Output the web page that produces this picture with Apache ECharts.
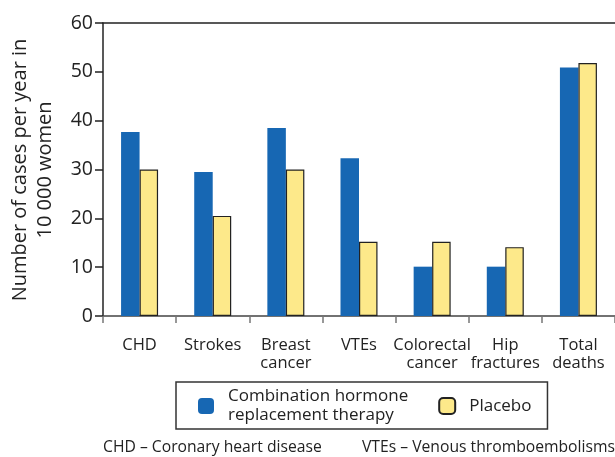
<!DOCTYPE html>
<html><head><meta charset="utf-8">
<script src="https://cdn.jsdelivr.net/npm/echarts@6/dist/echarts.min.js"></script>
<style>html,body{margin:0;padding:0;background:#fff}#c{width:615px;height:457px}</style>
</head><body><div id="c"></div>
<script>
const categories = ['CHD', 'Strokes', 'Breast\ncancer', 'VTEs', 'Colorectal\ncancer', 'Hip\nfractures', 'Total\ndeaths'];
const hrtValues = [37.7, 29.5, 38.5, 32.3, 10.1, 10.1, 50.9];
const placeboValues = [30, 20.5, 30, 15.2, 15.2, 14.1, 51.8];
const yTicks = [0, 10, 20, 30, 40, 50, 60];
const seriesNames = ['Combination hormone\nreplacement therapy', 'Placebo'];
const yTitle = 'Number of cases per year in\n10 000 women';
const footLeft = 'CHD – Coronary heart disease';
const footRight = 'VTEs – Venous thromboembolisms';

const font = 'Open Sans';
const chart = echarts.init(document.getElementById('c'));
chart.setOption({
  animation: false,
  textStyle: { fontFamily: font, color: '#222' },
  grid: { left: 103, top: 23, width: 516, height: 293, containLabel: false },
  xAxis: [{
    type: 'category', data: categories,
    axisLine: { lineStyle: { color: '#444', width: 1.5 } },
    axisTick: { show: true, length: 7, lineStyle: { color: '#777', width: 1.5 } },
    axisLabel: { fontFamily: font, fontSize: 16.5, color: '#222', margin: 20, lineHeight: 18, interval: 0 }
  }, {
    type: 'category', data: categories, position: 'top',
    axisLine: { show: true, lineStyle: { color: '#222', width: 1.5 } },
    axisTick: { show: false }, axisLabel: { show: false }
  }],
  yAxis: {
    type: 'value', min: yTicks[0], max: yTicks[yTicks.length - 1], interval: 10,
    axisLine: { show: true, lineStyle: { color: '#222', width: 1.5 } },
    axisTick: { show: true, length: 8, lineStyle: { color: '#222', width: 1.5 } },
    axisLabel: { fontFamily: font, fontSize: 19.5, color: '#222', margin: 10 },
    splitLine: { show: false }
  },
  legend: {
    left: 176, top: 382,
    data: seriesNames,
    itemWidth: 16, itemHeight: 16, itemGap: 30,
    borderColor: '#333', borderWidth: 1.5, borderRadius: 0,
    padding: [5, 16, 4, 22],
    textStyle: { fontFamily: font, fontSize: 17, color: '#222', lineHeight: 19, padding: [0, 0, 0, 9] }
  },
  series: [{
    name: seriesNames[0], type: 'bar', data: hrtValues, barWidth: 18.5, barGap: '0%',
    itemStyle: { color: '#1767b3' }
  }, {
    name: seriesNames[1], type: 'bar', data: placeboValues, barWidth: 18.5, barGap: '0%',
    itemStyle: { color: '#fde98a', borderColor: '#222', borderWidth: 1.2 }
  }],
  graphic: [{
    type: 'text', x: 33, y: 170, rotation: Math.PI / 2,
    style: { text: yTitle, font: '20px "Open Sans"', fill: '#222', align: 'center', verticalAlign: 'middle', lineHeight: 25 }
  }, {
    type: 'text', left: 103, top: 440,
    style: { text: footLeft, font: '15.7px "Open Sans"', fill: '#222' }
  }, {
    type: 'text', left: 362, top: 440,
    style: { text: footRight, font: '15.7px "Open Sans"', fill: '#222' }
  }]
});
</script></body></html>
